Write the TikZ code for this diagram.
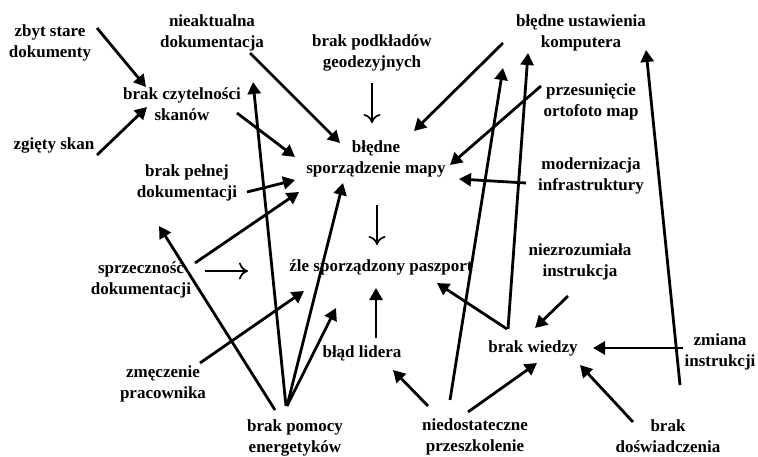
\documentclass[tikz,border=0pt]{standalone}
\usepackage{fontspec}
\setmainfont{Liberation Serif}
\usetikzlibrary{arrows.meta, calc}
\usepackage{xcolor}

\tikzset{
    lbl/.style={align=center, inner sep=0pt, font=\fontsize{17}{20.5}\selectfont\bfseries},
    arr/.style={line width=2.8pt, -{Triangle[length=12pt,width=13pt]}},
    thinarr/.style={line width=1.7pt, -{To[length=9pt,width=17pt]}}
}

\begin{document}
\begin{tikzpicture}[x=1pt, y=-1pt]
            \useasboundingbox (0,0) rectangle (758,456);
            \node[lbl] (stare) at (50,43) {zbyt stare\\dokumenty};
            \node[lbl] (nieakt) at (212,33) {nieaktualna\\dokumentacja};
            \node[lbl] (podklad) at (372,53) {brak podkładów\\geodezyjnych};
            \node[lbl] (ustaw) at (581,33) {błędne ustawienia\\komputera};
            \node[lbl] (czytel) at (182,104) {brak czytelności\\skanów};
            \node[lbl] (zgiety) at (54,145) {zgięty skan};
            \node[lbl] (przesun) at (591,102) {przesunięcie\\ortofoto map};
            \node[lbl] (mapa) at (376,159) {błędne\\sporządzenie mapy};
            \node[lbl] (modern) at (591,176) {modernizacja\\infrastruktury};
            \node[lbl] (pelna) at (187,183) {brak pełnej\\dokumentacji};
            \node[lbl] (sprzecz) at (141,280) {sprzeczność\\dokumentacji};
            \node[lbl] (paszport) at (381,267) {źle sporządzony paszport};
            \node[lbl] (niezroz) at (580,262) {niezrozumiała\\instrukcja};
            \node[lbl] (zmecz) at (163,384) {zmęczenie\\pracownika};
            \node[lbl] (lider) at (362,353) {błąd lidera};
            \node[lbl] (wiedza) at (533,348) {brak wiedzy};
            \node[lbl] (zmiana) at (720,352) {zmiana\\instrukcji};
            \node[lbl] (pomoc) at (295,438) {brak pomocy\\energetyków};
            \node[lbl] (szkol) at (475,437) {niedostateczne\\przeszkolenie};
            \node[lbl] (doswiad) at (668,436) {brak\\doświadczenia};

            \draw[arr] ($(stare)+(47,-15)$) -- ($(czytel)+(-36,-17)$);
            \draw[arr] ($(zgiety)+(43,10)$) -- ($(czytel)+(-35,3)$);
            \draw[arr] ($(nieakt)+(38,20)$) -- ($(mapa)+(-36,-16)$);
            \draw[thinarr] ($(podklad)+(0,30)$) -- ($(mapa)+(-4,-36)$);
            \draw[arr] ($(czytel)+(55,9)$) -- ($(mapa)+(-81,-2)$);
            \draw[arr] ($(ustaw)+(-78,10)$) -- ($(mapa)+(38,-28)$);
            \draw[arr] ($(przesun)+(-50,-16)$) -- ($(mapa)+(74,6)$);
            \draw[arr] ($(modern)+(-65,7)$) -- ($(mapa)+(83,20)$);
            \draw[arr] ($(pelna)+(60,9)$) -- ($(mapa)+(-81,21)$);
            \draw[arr] ($(sprzecz)+(54,-17)$) -- ($(mapa)+(-77,33)$);
            \draw[thinarr] ($(sprzecz)+(64,-9)$) -- ($(paszport)+(-133,4)$);
            \draw[thinarr] ($(mapa)+(1,46)$) -- ($(paszport)+(-4,-22)$);
            \draw[arr] ($(pomoc)+(-8,-32)$) -- ($(mapa)+(-33,24)$);
            \draw[arr] ($(pomoc)+(-9,-32)$) -- ($(nieakt)+(41,49)$);
            \draw[arr] ($(pomoc)+(-20,-28)$) -- ($(pelna)+(-28,43)$);
            \draw[arr] ($(zmecz)+(37,-21)$) -- ($(paszport)+(-77,24)$);
            \draw[arr] ($(pomoc)+(-8,-32)$) -- ($(paszport)+(-45,41)$);
            \draw[arr] ($(lider)+(14,-15)$) -- ($(paszport)+(-5,21)$);
            \draw[arr] ($(szkol)+(-47,-31)$) -- ($(lider)+(31,17)$);
            \draw[arr] ($(szkol)+(-7,-25)$) -- ($(wiedza)+(4,15)$);
            \draw[arr] ($(szkol)+(-25,-37)$) -- ($(ustaw)+(-78,35)$);
            \draw[arr] ($(wiedza)+(-25,-19)$) -- ($(ustaw)+(-53,20)$);
            \draw[arr] ($(wiedza)+(-26,-19)$) -- ($(paszport)+(56,16)$);
            \draw[arr] ($(niezroz)+(-12,34)$) -- ($(wiedza)+(2,-20)$);
            \draw[arr] ($(zmiana)+(-37,-4)$) -- ($(wiedza)+(60,0)$);
            \draw[arr] ($(doswiad)+(-35,-14)$) -- ($(wiedza)+(47,17)$);
            \draw[arr] ($(doswiad)+(12,-51)$) -- ($(ustaw)+(65,17)$);
        \end{tikzpicture}
\end{document}
